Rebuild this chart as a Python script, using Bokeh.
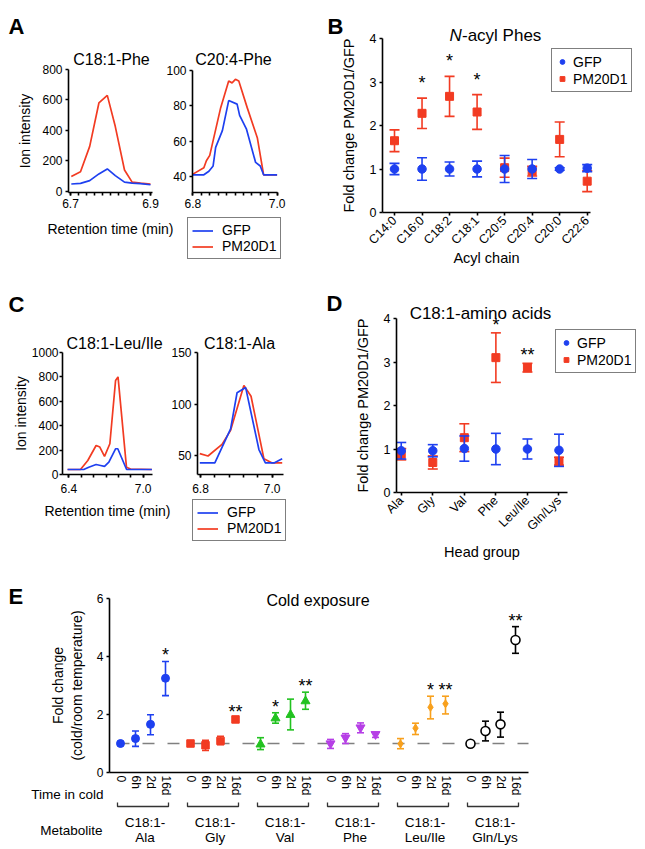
import math
import numpy as np
from bokeh.plotting import figure
from bokeh.models import (Range1d, FixedTicker, Label, Legend, LegendItem, LinearAxis,
                          PrintfTickFormatter)
from bokeh.embed import file_html
from bokeh.resources import INLINE
from bokeh.core.properties import value

FONT = "Liberation Sans"
BLUE = "#1e40f0"
RED = "#f23b22"
GREEN = "#22c220"
PURPLE = "#b63fe6"
ORANGE = "#f8a01c"
BLACK = "#000000"

# ---------------- data: panel A (C18:1-Phe, C20:4-Phe) ----------------
a1_time_pm = [6.702, 6.725, 6.748, 6.771, 6.792, 6.812, 6.835, 6.854, 6.875, 6.900]
a1_int_pm = [97, 128, 295, 580, 630, 425, 140, 60, 53, 48]
a1_time_gfp = [6.702, 6.725, 6.748, 6.771, 6.792, 6.812, 6.835, 6.854, 6.875, 6.900]
a1_int_gfp = [48, 52, 70, 114, 147, 103, 60, 53, 50, 43]

a2_time_pm = [6.800, 6.826, 6.832, 6.840, 6.866, 6.885, 6.893, 6.901, 6.909, 6.929, 6.953, 6.968, 7.000]
a2_int_pm = [41.4, 45, 49, 52, 79, 94, 93, 95, 94, 79, 62, 41, 41]
a2_time_gfp = [6.800, 6.826, 6.838, 6.848, 6.854, 6.870, 6.885, 6.905, 6.911, 6.927, 6.949, 6.960, 6.968, 7.000]
a2_int_gfp = [41, 41, 43, 46, 56.5, 66, 83, 81, 74.6, 67, 48, 46, 41, 41]

# ---------------- data: panel C (C18:1-Leu/Ile, C18:1-Ala) ----------------
c1_time_pm = [6.39, 6.494, 6.553, 6.620, 6.650, 6.688, 6.731, 6.777, 6.797, 6.865, 6.898, 7.07]
c1_int_pm = [41, 41, 115, 238, 225, 148, 252, 770, 800, 60, 45, 41]
c1_time_gfp = [6.39, 6.52, 6.561, 6.620, 6.656, 6.688, 6.723, 6.777, 6.795, 6.866, 7.07]
c1_int_gfp = [41, 41, 60, 82, 74, 66, 101, 211, 211, 41, 41]

c2_time_pm = [6.798, 6.821, 6.860, 6.884, 6.921, 6.941, 6.977, 7.000, 7.028]
c2_int_pm = [52, 49.7, 61, 74.6, 118, 107.6, 47, 43, 43]
c2_time_gfp = [6.798, 6.840, 6.860, 6.884, 6.902, 6.926, 6.963, 6.981, 7.005, 7.028]
c2_int_gfp = [43, 43, 58, 76, 111, 116, 56, 43, 43, 47]

# ---------------- data: panel B (N-acyl Phes) ----------------
b_chains = ["C14:0", "C16:0", "C18:2", "C18:1", "C20:5", "C20:4", "C20:0", "C22:6"]
b_gfp_mean = [1.00, 1.00, 1.00, 1.00, 1.00, 1.00, 1.00, 1.02]
b_gfp_err = [0.13, 0.26, 0.16, 0.18, 0.31, 0.22, 0.03, 0.08]
b_pm_mean = [1.65, 2.28, 2.67, 2.31, 1.03, 0.95, 1.68, 0.72]
b_pm_err = [0.25, 0.35, 0.46, 0.40, 0.22, 0.11, 0.40, 0.24]
b_sig = ["", "*", "*", "*", "", "", "", ""]

# ---------------- data: panel D (C18:1-amino acids) ----------------
d_heads = ["Ala", "Gly", "Val", "Phe", "Leu/Ile", "Gln/Lys"]
d_gfp_mean = [0.96, 0.96, 1.01, 1.00, 1.00, 0.97]
d_gfp_err = [0.19, 0.14, 0.29, 0.36, 0.23, 0.37]
d_pm_mean = [0.88, 0.69, 1.26, 3.10, 2.87, 0.72]
d_pm_err = [0.13, 0.15, 0.32, 0.57, 0.10, 0.09]
d_sig = ["", "", "", "*", "**", ""]

# ---------------- data: panel E (Cold exposure) ----------------
e_metabolites = ["Ala", "Gly", "Val", "Phe", "Leu/Ile", "Gln/Lys"]
e_times = ["0", "6h", "2d", "16d"]
e_ala_mean = [1.00, 1.17, 1.66, 3.25]
e_ala_hi = [1.06, 1.43, 1.99, 3.83]
e_ala_lo = [0.94, 0.90, 1.30, 2.65]
e_gly_mean = [1.00, 0.94, 1.09, 1.83]
e_gly_hi = [1.05, 1.11, 1.25, 1.89]
e_gly_lo = [0.95, 0.76, 0.96, 1.77]
e_val_mean = [0.97, 1.87, 1.99, 2.46]
e_val_hi = [1.20, 2.06, 2.53, 2.77]
e_val_lo = [0.79, 1.70, 1.47, 2.18]
e_phe_mean = [1.00, 1.20, 1.55, 1.32]
e_phe_hi = [1.14, 1.34, 1.71, 1.39]
e_phe_lo = [0.83, 1.00, 1.37, 1.21]
e_leu_mean = [0.99, 1.53, 2.25, 2.37]
e_leu_hi = [1.17, 1.70, 2.63, 2.63]
e_leu_lo = [0.82, 1.31, 1.85, 2.02]
e_gln_mean = [0.99, 1.43, 1.66, 4.57]
e_gln_hi = [1.09, 1.77, 2.08, 5.03]
e_gln_lo = [0.88, 1.09, 1.22, 4.11]
e_ala_sig = ["", "", "", "*"]
e_gly_sig = ["", "", "", "**"]
e_val_sig = ["", "*", "", "**"]
e_phe_sig = ["", "", "", ""]
e_leu_sig = ["", "", "*", "**"]
e_gln_sig = ["", "", "", "**"]

# ---------------- one canvas; coordinates of the picture ----------------
CX0, CY0, CX1, CY1 = 0, 0, 645, 849
p = figure(width=CX1 - CX0, height=CY1 - CY0,
           x_range=Range1d(CX0, CX1), y_range=Range1d(CY1, CY0),
           x_axis_location=None, y_axis_location=None,
           output_backend="svg", toolbar_location=None,
           min_border=0, min_border_left=0, min_border_right=0,
           min_border_top=0, min_border_bottom=0)
p.title.text = ""
p.title.visible = False
p.outline_line_color = None
p.background_fill_color = "white"
p.border_fill_color = "white"
p.xgrid.grid_line_color = None
p.ygrid.grid_line_color = None


def panel(name, frame, xr, yr):
    fx0, fy0, fx1, fy1 = frame
    xs, xe = xr
    ys, ye = yr
    kx = (xe - xs) / (fx1 - fx0)
    ky = (ye - ys) / (fy1 - fy0)
    p.extra_x_ranges[name] = Range1d(xs - (fx0 - CX0) * kx, xe + (CX1 - fx1) * kx)
    p.extra_y_ranges[name] = Range1d(ys - (CY1 - fy1) * ky, ye + (fy0 - CY0) * ky)


def style_axis(ax, size="12px"):
    ax.axis_line_width = 1.6
    ax.axis_line_color = BLACK
    ax.major_tick_line_width = 1.6
    ax.minor_tick_line_width = 1.6
    ax.major_tick_line_color = BLACK
    ax.minor_tick_line_color = BLACK
    ax.major_tick_in = 0
    ax.major_tick_out = 3
    ax.minor_tick_in = 0
    ax.minor_tick_out = 0
    ax.major_label_text_font = FONT
    ax.major_label_text_font_size = size
    ax.major_label_text_color = BLACK
    ax.major_label_standoff = 3
    ax.axis_label_text_font = FONT
    ax.axis_label_text_font_style = "normal"
    ax.axis_label_text_font_size = "14px"
    ax.axis_label_text_color = BLACK


def add_axes(name, xr, yr, xticker, yticker):
    xa = LinearAxis(x_range_name=name, y_range_name=name, fixed_location=yr[0],
                    bounds=xr, ticker=xticker)
    ya = LinearAxis(x_range_name=name, y_range_name=name, fixed_location=xr[0],
                    bounds=yr, ticker=yticker)
    style_axis(xa)
    style_axis(ya)
    p.add_layout(xa, "below")
    p.add_layout(ya, "left")
    return xa, ya


def note(sx, sy, text, size="14px", align="left", style="normal"):
    p.add_layout(Label(x=sx, y=sy, text=text, text_font=FONT, text_font_size=size,
                       text_align=align, text_baseline="alphabetic",
                       text_font_style=style, text_color=BLACK))


def errbars(name, x, lo, hi, color, cap=10, lw=1.6):
    kw = dict(x_range_name=name, y_range_name=name)
    p.segment(x0=x, y0=lo, x1=x, y1=hi, line_color=color, line_width=lw, **kw)
    p.scatter(x=x, y=hi, marker="dash", size=cap, line_color=color, line_width=lw, **kw)
    p.scatter(x=x, y=lo, marker="dash", size=cap, line_color=color, line_width=lw, **kw)


def stars(name, x, y, sig, dy):
    p.text(x=x, y=y, text=sig, text_font=value(FONT), text_font_size="18px",
           text_align="center", text_baseline="middle", y_offset=-(dy - 4),
           text_color=BLACK, x_range_name=name, y_range_name=name)


def make_legend(items, box_left, box_bottom, glyph_w, standoff, label_h, pad):
    leg = Legend(items=[LegendItem(label=l, renderers=[r]) for l, r in items],
                 location=(box_left - CX0, CY1 - box_bottom), orientation="vertical",
                 label_text_font=FONT, label_text_font_size="14px", label_text_color=BLACK,
                 glyph_width=glyph_w, glyph_height=label_h, label_height=label_h,
                 label_standoff=standoff, padding=pad, spacing=0, margin=0,
                 border_line_color=BLACK, border_line_width=1.2,
                 background_fill_color="white", background_fill_alpha=1.0)
    p.add_layout(leg)


def chrom(name, frame, xr, yr, xt, xminor, yt, t_pm, i_pm, t_gfp, i_gfp):
    panel(name, frame, xr, yr)
    r_pm = p.line(t_pm, i_pm, line_color=RED, line_width=1.7, x_range_name=name, y_range_name=name)
    r_g = p.line(t_gfp, i_gfp, line_color=BLUE, line_width=1.7, x_range_name=name, y_range_name=name)
    xa, ya = add_axes(name, xr, yr, FixedTicker(ticks=xt, minor_ticks=xminor), FixedTicker(ticks=yt))
    xa.formatter = PrintfTickFormatter(format="%.1f")
    xa.minor_tick_out = 3
    return xa, ya, r_g, r_pm


# ---------------- Panel A ----------------
xa, ya, _, _ = chrom("A1", (68, 69, 152, 192), (6.695, 6.905), (-8, 800),
                     [6.7, 6.9], list(np.round(np.arange(6.70, 6.9001, 0.02), 2)),
                     [0, 200, 400, 600, 800],
                     a1_time_pm, a1_int_pm, a1_time_gfp, a1_int_gfp)
ya.axis_label = "Ion intensity"
ya.axis_label_standoff = 6
xa.axis_label = "Retention time (min)"
xa.axis_label_standoff = 10
xa, ya, rg, rp = chrom("A2", (192, 70, 277, 192), (6.799, 7.001), (31, 100),
                       [6.8, 7.0], list(np.round(np.arange(6.80, 7.0001, 0.02), 2)),
                       [40, 60, 80, 100],
                       a2_time_pm, a2_int_pm, a2_time_gfp, a2_int_gfp)
make_legend([("GFP", rg), ("PM20D1", rp)], 187, 259, 21, 9, 15, 4)
note(8, 26, "A", size="22px", style="bold")
note(111, 59, "C18:1-Phe", size="16px", align="center")
note(233, 59, "C20:4-Phe", size="16px", align="center")

# ---------------- Panel C ----------------
xa, ya, _, _ = chrom("C1", (62, 352, 152, 474), (6.349, 7.075), (0, 1000),
                     [6.4, 7.0], list(np.round(np.arange(6.4, 7.0001, 0.1), 2)),
                     [0, 200, 400, 600, 800, 1000],
                     c1_time_pm, c1_int_pm, c1_time_gfp, c1_int_gfp)
ya.axis_label = "Ion intensity"
ya.major_label_standoff = 1
ya.axis_label_standoff = 0
xa.axis_label = "Retention time (min)"
xa.major_label_standoff = 6
xa.axis_label_standoff = 7
xa, ya, rg, rp = chrom("C2", (197, 352, 283, 474), (6.7916, 7.0316), (31.8, 150),
                       [6.8, 7.0], list(np.round(np.arange(6.8, 7.0001, 0.04), 2)),
                       [50, 100, 150],
                       c2_time_pm, c2_int_pm, c2_time_gfp, c2_int_gfp)
xa.major_label_standoff = 6
make_legend([("GFP", rg), ("PM20D1", rp)], 192, 541, 21, 9, 15, 4)
note(8, 304, "C", size="22px", style="bold")
note(114, 343, "C18:1-Leu/Ile", size="16px", align="center")
note(239, 343, "C18:1-Ala", size="16px", align="center")


# ---------------- dot plots B and D ----------------
def dots(name, frame, xr, cats, gm, ge, pm, pe, sig, stardy, xlabel):
    panel(name, frame, xr, (0, 4))
    x = list(range(len(cats)))
    p_lo = [m - e for m, e in zip(pm, pe)]
    p_hi = [m + e for m, e in zip(pm, pe)]
    g_lo = [m - e for m, e in zip(gm, ge)]
    g_hi = [m + e for m, e in zip(gm, ge)]
    kw = dict(x_range_name=name, y_range_name=name)
    errbars(name, x, p_lo, p_hi, RED, cap=10)
    rp = p.scatter(x, pm, marker="square", size=8, fill_color=RED, line_color=RED, **kw)
    errbars(name, x, g_lo, g_hi, BLUE, cap=10)
    rg = p.scatter(x, gm, marker="circle", size=8.5, fill_color=BLUE, line_color=BLUE, **kw)
    stars(name, x, p_hi, sig, stardy)
    xa, ya = add_axes(name, xr, (0, 4), FixedTicker(ticks=x), FixedTicker(ticks=[0, 1, 2, 3, 4]))
    xa.major_label_overrides = {i: c for i, c in enumerate(cats)}
    xa.major_label_orientation = math.pi / 4
    xa.major_label_text_font_size = "12.5px"
    ya.major_label_text_font_size = "12.5px"
    ya.axis_label = "Fold change PM20D1/GFP"
    ya.axis_label_standoff = 10
    ya.axis_label_text_font_size = "14.5px"
    xa.axis_label = xlabel
    xa.axis_label_text_font_size = "14.5px"
    return xa, ya, rg, rp


xa, ya, rg, rp = dots("B", (382, 38, 590, 212), (-0.436, 7.12), b_chains,
                      b_gfp_mean, b_gfp_err, b_pm_mean, b_pm_err, b_sig, 19, "Acyl chain")
xa.axis_label_standoff = -5
make_legend([("GFP", rg), ("PM20D1", rp)], 551, 92, 12, 5, 17, 4)
note(327, 26, "B", size="22px", style="bold")
note(449, 35, "N", size="17px", style="italic")
note(461.5, 35, "-acyl Phes", size="17px")

xa, ya, rg, rp = dots("D", (396, 318, 567, 492), (-0.15, 5.27), d_heads,
                      d_gfp_mean, d_gfp_err, d_pm_mean, d_pm_err, d_sig, 12, "Head group")
xa.axis_label_standoff = 3
make_legend([("GFP", rg), ("PM20D1", rp)], 555, 373, 12, 5, 17, 4)
note(326, 303, "D", size="22px", style="bold")
note(480, 313, "C18:1-amino acids", size="17px", align="center")

# ---------------- Panel E ----------------
GROUP_STRIDE = 14
POINT_STEP = 3
E_X = (-2.2, 81.6)
panel("E", (109, 598, 528, 772), E_X, (0, 6))
kwE = dict(x_range_name="E", y_range_name="E")

series = [
    (e_ala_mean, e_ala_lo, e_ala_hi, e_ala_sig, "circle", BLUE, BLUE, 8),
    (e_gly_mean, e_gly_lo, e_gly_hi, e_gly_sig, "square", RED, RED, 7.5),
    (e_val_mean, e_val_lo, e_val_hi, e_val_sig, "triangle", GREEN, GREEN, 9),
    (e_phe_mean, e_phe_lo, e_phe_hi, e_phe_sig, "inverted_triangle", PURPLE, PURPLE, 9),
    (e_leu_mean, e_leu_lo, e_leu_hi, e_leu_sig, "diamond", ORANGE, ORANGE, 8),
    (e_gln_mean, e_gln_lo, e_gln_hi, e_gln_sig, "circle", "white", BLACK, 9),
]
all_pos, all_lab, xs_all = [], [], []
for g in range(len(series)):
    xs = [g * GROUP_STRIDE + i * POINT_STEP for i in range(len(e_times))]
    xs_all.append(xs)
    all_pos += xs
    all_lab += e_times

# dashed reference line at fold change = 1
p.line([all_pos[0] - 0.6, E_X[1]], [1, 1], line_color="#808080",
       line_width=1.3, line_dash="12 13", **kwE)

for g, (m, lo, hi, sig, mk, fill, col, sz) in enumerate(series):
    xs = xs_all[g]
    errbars("E", xs, lo, hi, col, cap=7, lw=1.6)
    p.scatter(xs, m, marker=mk, size=sz, fill_color=fill, line_color=col,
              line_width=1.6 if fill == "white" else 1, **kwE)
    stars("E", xs, hi, sig, 10)

xa, ya = add_axes("E", E_X, (0, 6), FixedTicker(ticks=all_pos), FixedTicker(ticks=[0, 2, 4, 6]))
xa.major_label_overrides = {x: l for x, l in zip(all_pos, all_lab)}
xa.major_label_orientation = "vertical"
xa.major_tick_out = 0
xa.major_label_standoff = 3
ya.axis_label = "Fold change\n(cold/room temperature)"
ya.axis_label_standoff = 9

# brackets and metabolite names under the time labels
bx, by, centers = [], [], []
for xs in xs_all:
    s, e = xs[0] - 0.6, xs[-1] + 0.6
    bx.append([s, s, e, e])
    by.append([802, 806, 806, 802])
    centers.append((xs[0] + xs[-1]) / 2 + 0.4)
p.multi_line(bx, by, line_color="#333333", line_width=1.3, x_range_name="E")
p.text(x=centers, y=[822] * len(centers), text=["C18:1-"] * len(centers),
       text_font=value(FONT), text_font_size="13.5px", text_align="center",
       text_baseline="alphabetic", text_color=BLACK, x_range_name="E")
p.text(x=centers, y=[837] * len(centers), text=e_metabolites,
       text_font=value(FONT), text_font_size="13.5px", text_align="center",
       text_baseline="alphabetic", text_color=BLACK, x_range_name="E")

note(8, 596, "E", size="22px", style="bold")
note(317.5, 600, "Cold exposure", size="16px", align="center")
note(103, 794, "Time in cold", size="13.5px", align="right")
note(102, 830, "Metabolite", size="13.5px", align="right")

open("out.html", "w").write(file_html(p, INLINE, "PM20D1 figure"))
